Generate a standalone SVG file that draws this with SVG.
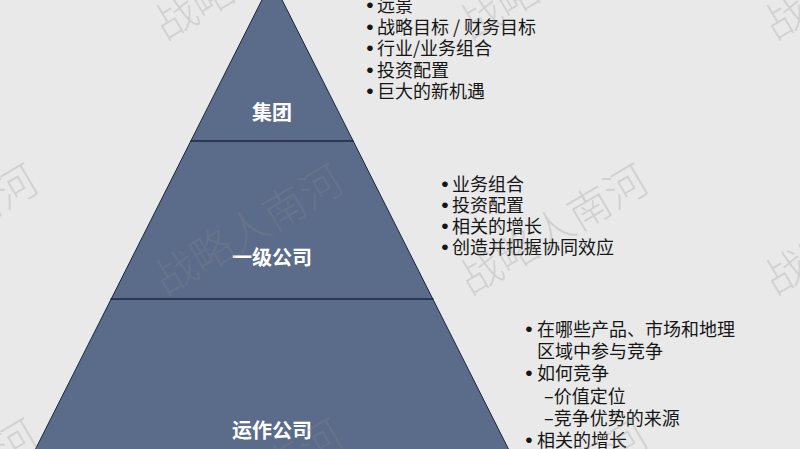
<svg xmlns="http://www.w3.org/2000/svg" width="800" height="449" viewBox="0 0 800 449">
<defs>
<style>
.wm{font-family:"Noto Sans CJK SC","Noto Sans",sans-serif;font-size:42px;font-weight:300;fill:#8a8a8a;fill-opacity:0.26;text-anchor:middle;dominant-baseline:central}
.lbl{font-family:"Noto Sans CJK SC","Noto Sans",sans-serif;font-size:20px;font-weight:bold;fill:#ffffff;text-anchor:middle}
.txt{font-family:"Noto Sans CJK SC","Noto Sans",sans-serif;font-size:18px;fill:#161616}
.bul{font-family:"Liberation Sans",sans-serif;font-size:21px;fill:#161616;text-anchor:middle}
.div{stroke:#1b2440;stroke-width:1.3;fill:none}
</style>
</defs>
<rect width="800" height="449" fill="#e9e9e9"/>

<g id="pyramid">
<polygon points="272,-20 30,460 514,460" fill="#5b6c8b" stroke="#1b2440" stroke-width="1"/>
</g>

<g id="connectors">
<line class="div" x1="190.5" y1="141" x2="353.5" y2="141"/>
<line class="div" x1="110.5" y1="299" x2="433.5" y2="299"/>
</g>

<g id="node-jituan">
<text class="lbl" x="272" y="119.5">集团</text>
</g>
<g id="node-yiji">
<text class="lbl" x="272" y="264.5">一级公司</text>
</g>
<g id="node-yunzuo">
<text class="lbl" x="272" y="437.5">运作公司</text>
</g>

<g id="list-jituan">
<text class="bul" x="370" y="12">•</text><text class="txt" x="377" y="12">远景</text>
<text class="bul" x="370" y="33.5">•</text><text class="txt" x="377" y="33.5">战略目标 / 财务目标</text>
<text class="bul" x="370" y="55">•</text><text class="txt" x="377" y="55">行业/业务组合</text>
<text class="bul" x="370" y="76.5">•</text><text class="txt" x="377" y="76.5">投资配置</text>
<text class="bul" x="370" y="98">•</text><text class="txt" x="377" y="98">巨大的新机遇</text>
</g>

<g id="list-yiji">
<text class="bul" x="445" y="190.5">•</text><text class="txt" x="452" y="190.5">业务组合</text>
<text class="bul" x="445" y="211.5">•</text><text class="txt" x="452" y="211.5">投资配置</text>
<text class="bul" x="445" y="232.5">•</text><text class="txt" x="452" y="232.5">相关的增长</text>
<text class="bul" x="445" y="253.5">•</text><text class="txt" x="452" y="253.5">创造并把握协同效应</text>
</g>

<g id="list-yunzuo">
<text class="bul" x="529" y="336">•</text><text class="txt" x="537" y="336">在哪些产品、市场和地理</text>
<text class="txt" x="537" y="358.2">区域中参与竞争</text>
<text class="bul" x="529" y="380.4">•</text><text class="txt" x="537" y="380.4">如何竞争</text>
<text class="txt" x="544" y="402.6">–价值定位</text>
<text class="txt" x="544" y="424.8">–竞争优势的来源</text>
<text class="bul" x="529" y="447">•</text><text class="txt" x="537" y="447">相关的增长</text>
</g>

<g id="watermark">
<text class="wm" x="-58.5" y="-28.5" transform="rotate(-30.6 -58.5 -28.5)">战略人南河</text>
<text class="wm" x="246.5" y="-28.5" transform="rotate(-30.6 246.5 -28.5)">战略人南河</text>
<text class="wm" x="551.5" y="-28.5" transform="rotate(-30.6 551.5 -28.5)">战略人南河</text>
<text class="wm" x="856.5" y="-28.5" transform="rotate(-30.6 856.5 -28.5)">战略人南河</text>
<text class="wm" x="-58.5" y="226.5" transform="rotate(-30.6 -58.5 226.5)">战略人南河</text>
<text class="wm" x="246.5" y="226.5" transform="rotate(-30.6 246.5 226.5)">战略人南河</text>
<text class="wm" x="551.5" y="226.5" transform="rotate(-30.6 551.5 226.5)">战略人南河</text>
<text class="wm" x="856.5" y="226.5" transform="rotate(-30.6 856.5 226.5)">战略人南河</text>
<text class="wm" x="-58.5" y="481.5" transform="rotate(-30.6 -58.5 481.5)">战略人南河</text>
<text class="wm" x="246.5" y="481.5" transform="rotate(-30.6 246.5 481.5)">战略人南河</text>
<text class="wm" x="551.5" y="481.5" transform="rotate(-30.6 551.5 481.5)">战略人南河</text>
<text class="wm" x="856.5" y="481.5" transform="rotate(-30.6 856.5 481.5)">战略人南河</text>
</g>
</svg>
